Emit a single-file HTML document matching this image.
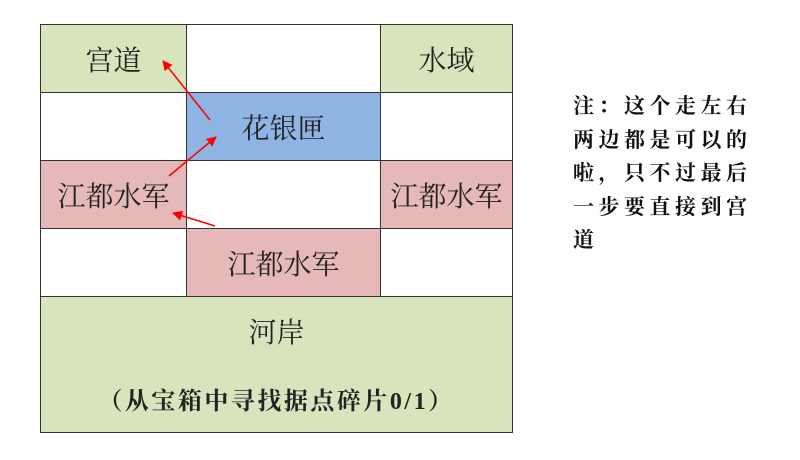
<!DOCTYPE html>
<html><head><meta charset="utf-8"><style>
body{margin:0;width:800px;height:460px;background:#fff;position:relative;overflow:hidden;font-family:"Liberation Serif","Noto Serif CJK SC",serif;}
.c{position:absolute;box-sizing:border-box;border:1.5px solid #333;display:flex;align-items:center;justify-content:center;font-size:28px;color:#222;}
.g{background:#d8e4bc}.b{background:#8db4e2}.r{background:#e6b8b7}
.note{position:absolute;left:573px;top:90px;font-size:21px;font-weight:bold;line-height:33.5px;width:200px;letter-spacing:4.5px;color:#111}
</style></head><body>
<div class="c g" style="left:40px;top:24px;width:147px;height:69px">宫道</div>
<div class="c" style="left:186px;top:24px;width:195px;height:69px"></div>
<div class="c g" style="left:380px;top:24px;width:133px;height:69px">水域</div>
<div class="c" style="left:40px;top:92px;width:147px;height:69px"></div>
<div class="c b" style="left:186px;top:92px;width:195px;height:69px">花银匣</div>
<div class="c" style="left:380px;top:92px;width:133px;height:69px"></div>
<div class="c r" style="left:40px;top:160px;width:147px;height:69px">江都水军</div>
<div class="c" style="left:186px;top:160px;width:195px;height:69px"></div>
<div class="c r" style="left:380px;top:160px;width:133px;height:69px">江都水军</div>
<div class="c" style="left:40px;top:228px;width:147px;height:69px"></div>
<div class="c r" style="left:186px;top:228px;width:195px;height:69px">江都水军</div>
<div class="c" style="left:380px;top:228px;width:133px;height:69px"></div>
<div class="c g" style="left:40px;top:296px;width:473px;height:137px;display:block">
<div style="position:absolute;left:0;right:0;top:14px;text-align:center">河岸</div>
<div style="position:absolute;left:0;right:0;top:84px;text-align:center;font-size:24px;font-weight:bold;letter-spacing:2.5px">（从宝箱中寻找据点碎片0/1）</div>
</div>
<svg style="position:absolute;left:0;top:0" width="800" height="460">
<defs><marker id="a" markerWidth="10" markerHeight="10" refX="9" refY="5" orient="auto" markerUnits="userSpaceOnUse" viewBox="0 0 10 10"><path d="M0,0 L10,5 L0,10 z" fill="#f00"/></marker></defs>
<g stroke="#f00" stroke-width="1.5" fill="none">
<line x1="210" y1="120" x2="163" y2="61" marker-end="url(#a)"/>
<line x1="169" y1="176" x2="216" y2="137" marker-end="url(#a)"/>
<line x1="215" y1="226" x2="173" y2="213" marker-end="url(#a)"/>
</g></svg>
<div class="note">注：这个走左右两边都是可以的啦，只不过最后一步要直接到宫道</div>
</body></html>
